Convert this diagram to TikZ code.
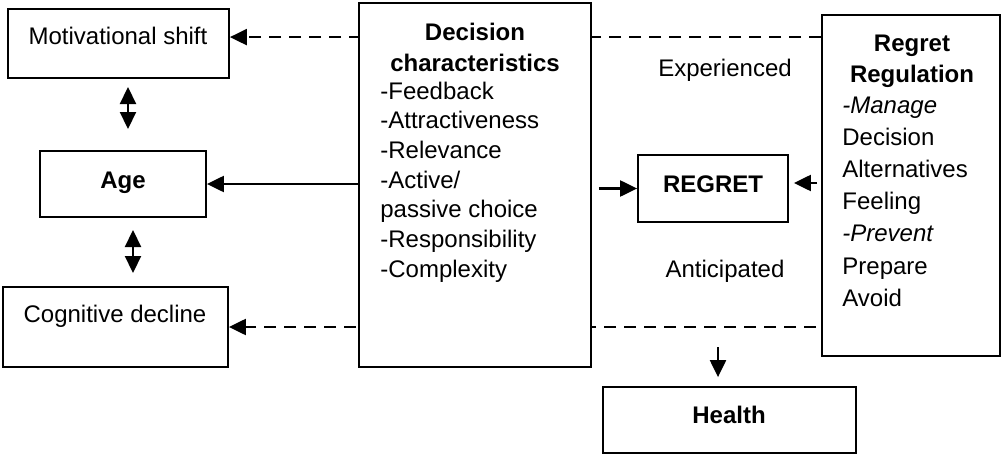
\documentclass[tikz,border=0pt]{standalone}
\usepackage{fontspec}
\setmainfont{Liberation Sans}
\usetikzlibrary{arrows.meta,calc,backgrounds}
\begin{document}
\begin{tikzpicture}[x=0.5pt,y=-0.5pt,
  box/.style={draw,line width=0.9pt,fill=white,inner sep=0pt},
  txt/.style={inner sep=0pt,font=\fontsize{12}{14}\selectfont},
  btxt/.style={txt,font=\fontsize{12}{14}\selectfont\bfseries},
  arr/.style={line width=1.1pt,-{Triangle[length=8.5pt,width=8pt]}},
  dsh/.style={arr,dash pattern=on 6pt off 4pt},
  dbl/.style={line width=1.1pt,{Triangle[length=8.5pt,width=8pt]}-{Triangle[length=8.5pt,width=8pt]}}
]
\useasboundingbox (0,0) rectangle (1002,455);

% boxes
\node[box,minimum width=110.5pt,minimum height=34.5pt] (ms) at (118.5,43.5) {};
\node[box,minimum width=83pt,minimum height=33pt] (age) at (123,184) {};
\node[box,minimum width=112.5pt,minimum height=40pt] (cd) at (115.5,327) {};
\node[box,minimum width=116pt,minimum height=182pt] (dc) at (475,185) {};
\node[box,minimum width=75pt,minimum height=33.5pt] (rg) at (713,188.5) {};
\node[box,minimum width=89pt,minimum height=170.5pt] (rr) at (911,185.5) {};
\node[box,minimum width=126.5pt,minimum height=33pt] (hl) at (729.5,420) {};

% texts
\node[txt,anchor=base] (mst) at (118,45) {Motivational shift};
\node[btxt,anchor=base] (aget) at (123,188) {Age};
\node[txt,anchor=base] (cdt) at (115,322) {Cognitive decline};
\node[btxt,anchor=base] (rgt) at (713,192) {REGRET};
\node[btxt,anchor=base] (hlt) at (729,423) {Health};
\node[txt,anchor=base] (exp) at (725,76) {Experienced};
\node[txt,anchor=base] (ant) at (725,277) {Anticipated};

\node[btxt,anchor=base] (dct1) at (475,40) {Decision};
\node[btxt,anchor=base] (dct2) at (475,71) {characteristics};
\foreach \t [count=\i from 0] in {-Feedback,-Attractiveness,-Relevance,-Active/,passive choice,-Responsibility,-Complexity}
  \node[txt,anchor=base west] (dcl\i) at (380,99+\i*29.7) {\t};

\node[btxt,anchor=base] (rrt1) at (912,51) {Regret};
\node[btxt,anchor=base] (rrt2) at (912,83) {Regulation};
\foreach \t [count=\i from 0] in {{\itshape -Manage},Decision,Alternatives,Feeling,{\itshape -Prevent},Prepare,Avoid}
  \node[txt,anchor=base west] (rrl\i) at (842,113+\i*32.2) {\t};

% dashed connectors (behind the decision box)
\coordinate (t1) at ($(rr.north west)+(0,23)$);
\coordinate (b1) at ($(rr.west |- cd.east)+(-5,0)$);
\begin{scope}[on background layer]
  \draw[dsh] (t1) -- (t1 -| ms.east);
  \draw[dsh] (b1) -- (cd.east);
\end{scope}

% solid connectors
\draw[arr] (dc.west |- age.east) -- (age.east);
\draw[arr,shorten <=3.5pt] (dc.east |- rg.west) -- (rg.west);
\coordinate (r1) at ($(rr.west)+(0,-2.5)$);
\draw[arr,shorten <=2pt,shorten >=2.5pt] (r1) -- (r1 -| rg.east);
\coordinate (h0) at (718,347);
\draw[arr,shorten >=4.5pt] (h0) -- (h0 |- hl.north);

% double arrows
\coordinate (d1a) at (128,87);
\coordinate (d1b) at (128,129);
\coordinate (d2a) at (133,230);
\coordinate (d2b) at (133,273);
\draw[dbl] (d1a) -- (d1b);
\draw[dbl] (d2a) -- (d2b);
\end{tikzpicture}
\end{document}
